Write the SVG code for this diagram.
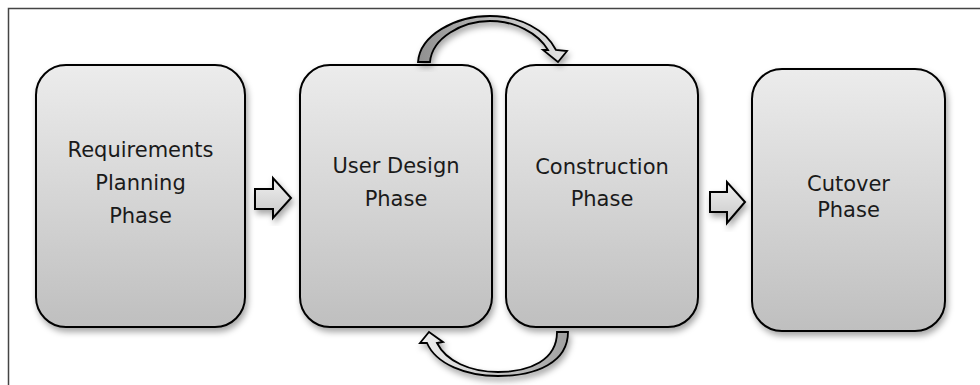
<svg xmlns="http://www.w3.org/2000/svg" width="980" height="385" viewBox="0 0 980 385">
<defs>
  <linearGradient id="boxg" x1="0" y1="0" x2="0" y2="1">
    <stop offset="0" stop-color="#ececec"/>
    <stop offset="1" stop-color="#bfbfbf"/>
  </linearGradient>
  <linearGradient id="arrg" x1="0" y1="0" x2="1" y2="0">
    <stop offset="0" stop-color="#909090"/>
    <stop offset="1" stop-color="#e4e4e4"/>
  </linearGradient>
  <linearGradient id="arrg2" x1="1" y1="0" x2="0" y2="0">
    <stop offset="0" stop-color="#a0a0a0"/>
    <stop offset="1" stop-color="#f0f0f0"/>
  </linearGradient>
  <linearGradient id="blkg" x1="0" y1="0" x2="0" y2="1">
    <stop offset="0" stop-color="#f0f0f0"/>
    <stop offset="1" stop-color="#c8c8c8"/>
  </linearGradient>
  <filter id="sh" x="-10%" y="-10%" width="130%" height="130%">
    <feDropShadow dx="2" dy="4" stdDeviation="3" flood-color="#000" flood-opacity="0.35"/>
  </filter>
</defs>
<style>
  .box { fill: url(#boxg); stroke: #000; stroke-width: 2; filter: url(#sh); }
  .lbl { font-family: "DejaVu Sans", Verdana, sans-serif; font-size: 21px; fill: #1a1a1a; text-anchor: middle; }
  .blk { fill: url(#blkg); stroke: #000; stroke-width: 2; stroke-linejoin: miter; filter: url(#sh); }
  .frame { stroke: #444; stroke-width: 1.5; fill: none; }
</style>
<rect width="980" height="385" fill="#fff"/>
<path class="frame" d="M8.5,385 V8.5 H980"/>

<g id="node-requirements">
  <rect class="box" x="36" y="65" width="209" height="262" rx="30" ry="30"/>
  <text class="lbl" x="140.5" y="157">Requirements</text>
  <text class="lbl" x="140.5" y="190">Planning</text>
  <text class="lbl" x="140.5" y="223">Phase</text>
</g>
<g id="node-userdesign">
  <rect class="box" x="300" y="65" width="192" height="262" rx="30" ry="30"/>
  <text class="lbl" x="396" y="173">User Design</text>
  <text class="lbl" x="396" y="206">Phase</text>
</g>
<g id="node-construction">
  <rect class="box" x="506" y="65" width="192" height="262" rx="30" ry="30"/>
  <text class="lbl" x="602" y="174">Construction</text>
  <text class="lbl" x="602" y="206">Phase</text>
</g>
<g id="node-cutover">
  <rect class="box" x="752" y="69" width="193" height="262" rx="30" ry="30"/>
  <text class="lbl" x="848.5" y="191">Cutover</text>
  <text class="lbl" x="848.5" y="217">Phase</text>
</g>

<g id="connectors">
  <path class="blk" d="M255,189 H273 V178 L291,198 L273,218 V209 H255 Z"/>
  <path class="blk" d="M710,192 H727 V182 L745,202 L727,223 V212 H710 Z"/>
  <path fill="url(#arrg)" stroke="#000" stroke-width="1.8" stroke-linejoin="miter" filter="url(#sh)"
        d="M418,62 C420,35 455,16 490,16 C520,16 546,30 556,50 L567,51 L558,62 L543,50 L548,50 C538,33 515,21 490,21 C462,21 432,38 430,62 Z"/>
  <path fill="url(#arrg2)" stroke="#000" stroke-width="1.8" stroke-linejoin="miter" filter="url(#sh)"
        d="M568,332 C568,362 537,376 498,376 C466,376 436,364 427,343 L420,343 L429,332 L443,342 L437,343 C446,361 470,372 498,372 C530,372 557,360 557,332 Z"/>
</g>
</svg>
